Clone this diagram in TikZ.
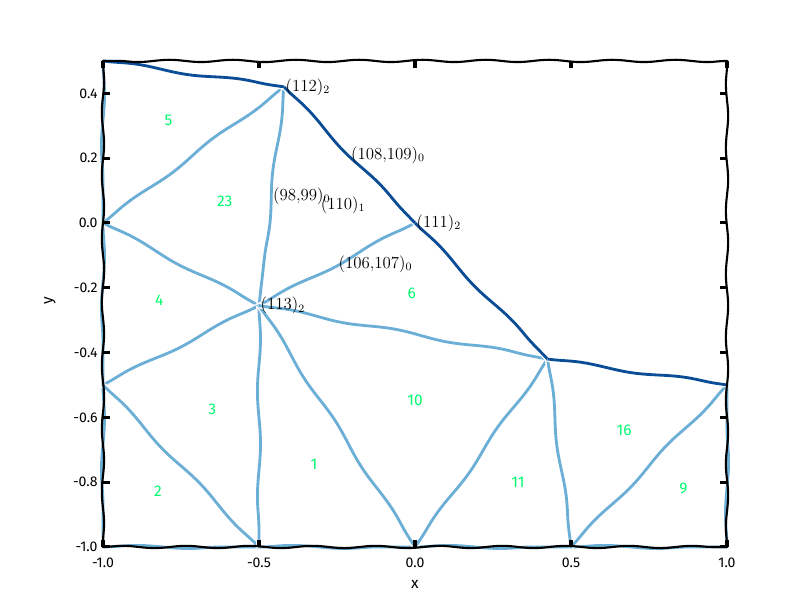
\documentclass[tikz,border=0pt]{standalone}
\usepackage{fontspec}
\usepackage{tikz}
\usepackage{amsmath}
\usetikzlibrary{decorations.pathmorphing}
\newfontfamily\handfont{Fira Sans}
\definecolor{meshblue}{RGB}{107,174,214}
\definecolor{rimblue}{RGB}{10,76,150}
\definecolor{regiongreen}{RGB}{0,250,110}
\tikzset{
  wobbly/.style={decorate,decoration={snake,amplitude=1.1pt,segment length=75pt}},
  meshedge/.style={wobbly,draw=white,double=meshblue,double distance=2pt,line width=1pt},
  rimedge/.style={wobbly,draw=white,double=rimblue,double distance=2pt,line width=1pt},
  frameline/.style={decorate,decoration={snake,amplitude=0.8pt,segment length=45pt},line width=1.5pt,line cap=round},
  tickmark/.style={line width=2.2pt},
  ticklbl/.style={font=\handfont\fontsize{10}{12}\selectfont,inner sep=1pt},
  region/.style={text=regiongreen,font=\handfont\fontsize{11}{13}\selectfont},
  vlabel/.style={anchor=west,inner sep=1pt,font=\fontsize{12}{14}\selectfont}
}
\begin{document}
\begin{tikzpicture}[x=7.8cm,y=8.1cm]
            \useasboundingbox (-1.330,-1.2006) rectangle (1.2724,0.688);

            % mesh points
            \coordinate (tl) at (-1,0.5);
            \coordinate (l0) at (-1,0);
            \coordinate (l5) at (-1,-0.5);
            \coordinate (bl) at (-1,-1);
            \coordinate (b5) at (-0.5,-1);
            \coordinate (b0) at (0,-1);
            \coordinate (b5r) at (0.5,-1);
            \coordinate (br) at (1,-1);
            \coordinate (r5) at (1,-0.5);
            \coordinate (p112) at (-0.42,0.42);
            \coordinate (p111) at (0,0);
            \coordinate (p113) at (-0.5,-0.255);
            \coordinate (pq) at (0.425,-0.42);

            % inner edges
            \foreach \a/\b in {tl/l0,l0/l5,l5/bl,bl/b5,b5/b0,b0/b5r,b5r/br,br/r5,
                               l0/p112,l0/p113,p112/p113,p113/p111,l5/p113,l5/b5,
                               p113/b5,p113/b0,p113/pq,pq/b0,pq/b5r,b5r/r5}
              \draw [meshedge] (\a) -- (\b);

            % outer edge
            \foreach \a/\b in {tl/p112,p112/p111,p111/pq,pq/r5}
              \draw [rimedge] (\a) -- (\b);

            % frame and ticks
            \coordinate (f1) at (-1,-1);
            \coordinate (f2) at (1,-1);
            \coordinate (f3) at (1,0.5);
            \coordinate (f4) at (-1,0.5);
            \draw [frameline] (f1) -- (f2);
            \draw [frameline] (f2) -- (f3);
            \draw [frameline] (f3) -- (f4);
            \draw [frameline] (f4) -- (f1);
            \foreach \yv in {0.4,0.2,0.0,-0.2,-0.4,-0.6,-0.8,-1.0} {
              \draw [tickmark] (-1,\yv) -- ++(0.024,0);
              \draw [tickmark] (1,\yv) -- ++(-0.024,0);
              \node [ticklbl,anchor=east] (ylbl) at (-1.012,\yv) {\yv};
            }
            \foreach \xv in {-1.0,-0.5,0.0,0.5,1.0} {
              \draw [tickmark] (\xv,-1) -- ++(0,0.023);
              \draw [tickmark] (\xv,0.5) -- ++(0,-0.023);
              \node [ticklbl] (xlbl) at (\xv,-1.05) {\xv};
            }
            \node [ticklbl,font=\handfont\fontsize{11}{13}\selectfont] (xname) at (0,-1.117) {x};
            \node [ticklbl,font=\handfont\fontsize{11}{13}\selectfont,rotate=90] (yname) at (-1.17,-0.24) {y};

            % region numbers
            \node [region] (r5n) at (-0.79,0.315) {5};
            \node [region] (r23) at (-0.61,0.068) {23};
            \node [region] (r4) at (-0.82,-0.24) {4};
            \node [region] (r6) at (-0.01,-0.216) {6};
            \node [region] (r3) at (-0.65,-0.574) {3};
            \node [region] (r2) at (-0.824,-0.827) {2};
            \node [region] (r1) at (-0.324,-0.744) {1};
            \node [region] (r10) at (0,-0.546) {10};
            \node [region] (r11) at (0.33,-0.8) {11};
            \node [region] (r16) at (0.67,-0.64) {16};
            \node [region] (r9) at (0.86,-0.82) {9};

            % entity labels
            \node [vlabel] (n112) at (p112) {$(112)_2$};
            \node [vlabel] (n111) at (p111) {$(111)_2$};
            \node [vlabel] (n113) at (p113) {$(113)_2$};
            \node [vlabel] (e108) at (-0.21,0.21) {$(108{,}109)_0$};
            \node [vlabel] (e106) at (-0.25,-0.1275) {$(106{,}107)_0$};
            \node [vlabel] (e98) at (-0.46,0.0825) {$(98{,}99)_0$};
            \node [vlabel] (f110) at (-0.307,0.055) {$(110)_1$};

        \end{tikzpicture}
\end{document}
